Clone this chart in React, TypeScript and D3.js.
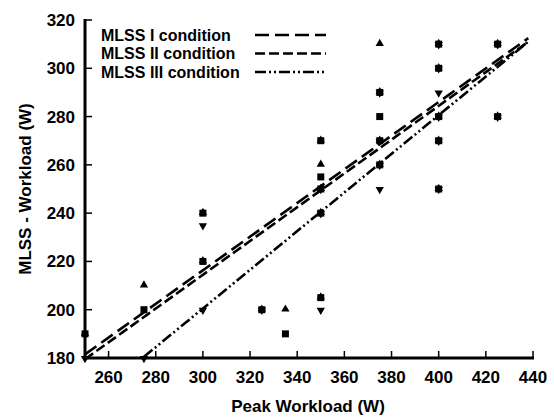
import { useEffect, useRef } from 'react'
import * as d3 from 'd3'

// peak workload (x) vs MLSS workload (y), one array per condition
const mlss1Peak = [250, 275, 300, 300, 325, 335, 350, 350, 350, 350, 350, 375, 375, 375, 375, 400, 400, 400, 400, 400, 425, 425]
const mlss1Load = [190, 200, 240, 220, 200, 190, 270, 255, 250, 240, 205, 290, 280, 270, 260, 310, 300, 280, 270, 250, 310, 280]

const mlss2Peak = [250, 275, 300, 300, 325, 335, 350, 350, 350, 350, 350, 375, 375, 375, 375, 400, 400, 400, 400, 400, 425, 425]
const mlss2Load = [190, 210, 240, 220, 200, 200, 270, 260, 250, 240, 205, 310, 290, 270, 260, 310, 300, 280, 270, 250, 310, 280]

const mlss3Peak = [250, 275, 300, 300, 325, 350, 350, 350, 375, 375, 375, 375, 400, 400, 400, 400, 400, 400, 425, 425]
const mlss3Load = [180, 180, 235, 200, 200, 250, 240, 200, 290, 270, 260, 250, 310, 300, 290, 280, 270, 250, 310, 280]

// regression lines, end points
const fit1X = [250, 438]
const fit1Y = [181.5, 312.5]
const fit2X = [250, 438]
const fit2Y = [179.5, 311]
const fit3X = [275, 438]
const fit3Y = [180.5, 311]

const legendLabels = ['MLSS I condition', 'MLSS II condition', 'MLSS III condition']
const dashes = ['14,6', '10,4', '11,3,2,3,2,3']

const xTicks = [260, 280, 300, 320, 340, 360, 380, 400, 420, 440]
const yTicks = [180, 200, 220, 240, 260, 280, 300, 320]

export default function App() {
  const svgRef = useRef<SVGSVGElement>(null)

  useEffect(() => {
    if (!svgRef.current) return
    const svg = d3.select(svgRef.current)
    svg.selectAll('*').remove()

    const font = 'Liberation Sans, Arial, sans-serif'
    const x = d3.scaleLinear().domain([250, 440]).range([85, 533])
    const y = d3.scaleLinear().domain([180, 320]).range([358, 20])

    svg.append('rect').attr('width', 554).attr('height', 417).attr('fill', '#fff')

    // regression lines
    const fits = [
      [fit1X, fit1Y],
      [fit2X, fit2Y],
      [fit3X, fit3Y]
    ]
    const line = d3.line<[number, number]>()
      .x(d => x(d[0]))
      .y(d => y(d[1]))
    fits.forEach(([fx, fy], i) => {
      svg.append('path')
        .datum(fx.map((v, j) => [v, fy[j]] as [number, number]))
        .attr('d', line)
        .attr('fill', 'none')
        .attr('stroke', '#000')
        .attr('stroke-width', 2.6)
        .attr('stroke-dasharray', dashes[i])
    })

    // markers: triangles under squares so their tips peek out
    const tri = d3.symbol().type(d3.symbolTriangle).size(30)
    svg.append('g').selectAll('path')
      .data(mlss3Peak.map((v, i) => [v, mlss3Load[i]]))
      .enter().append('path')
      .attr('d', tri)
      .attr('transform', d => `translate(${x(d[0])},${y(d[1]) + 0.5}) rotate(180)`)
      .attr('fill', '#000')
    svg.append('g').selectAll('path')
      .data(mlss2Peak.map((v, i) => [v, mlss2Load[i]]))
      .enter().append('path')
      .attr('d', tri)
      .attr('transform', d => `translate(${x(d[0])},${y(d[1]) - 0.5})`)
      .attr('fill', '#000')
    svg.append('g').selectAll('rect')
      .data(mlss1Peak.map((v, i) => [v, mlss1Load[i]]))
      .enter().append('rect')
      .attr('x', d => x(d[0]) - 3.5)
      .attr('y', d => y(d[1]) - 3.5)
      .attr('width', 7)
      .attr('height', 7)
      .attr('fill', '#000')

    // axes
    svg.append('line')
      .attr('x1', x(250)).attr('x2', x(250))
      .attr('y1', y(320) - 1).attr('y2', y(180) + 1.5)
      .attr('stroke', '#000').attr('stroke-width', 3)
    svg.append('line')
      .attr('x1', x(250) - 1.5).attr('x2', x(440) + 1)
      .attr('y1', y(180)).attr('y2', y(180))
      .attr('stroke', '#000').attr('stroke-width', 3)

    svg.append('g').selectAll('line')
      .data(yTicks.slice(1))
      .enter().append('line')
      .attr('x1', x(250)).attr('x2', x(250) + 7)
      .attr('y1', d => y(d)).attr('y2', d => y(d))
      .attr('stroke', '#000').attr('stroke-width', 1.5)
    svg.append('g').selectAll('line')
      .data(xTicks)
      .enter().append('line')
      .attr('x1', d => x(d)).attr('x2', d => x(d))
      .attr('y1', y(180)).attr('y2', y(180) - 7)
      .attr('stroke', '#000').attr('stroke-width', 1.5)

    svg.append('g').selectAll('text')
      .data(yTicks)
      .enter().append('text')
      .attr('x', 75)
      .attr('y', d => y(d) + 6)
      .attr('text-anchor', 'end')
      .style('font-family', font)
      .style('font-weight', 'bold')
      .style('font-size', '17px')
      .text(d => d)
    svg.append('g').selectAll('text')
      .data(xTicks)
      .enter().append('text')
      .attr('x', d => x(d))
      .attr('y', 383)
      .attr('text-anchor', 'middle')
      .style('font-family', font)
      .style('font-weight', 'bold')
      .style('font-size', '17px')
      .text(d => d)

    svg.append('text')
      .attr('transform', 'translate(31,189) rotate(-90)')
      .attr('text-anchor', 'middle')
      .style('font-family', font)
      .style('font-weight', 'bold')
      .style('font-size', '17px')
      .text('MLSS - Workload (W)')
    svg.append('text')
      .attr('x', 308)
      .attr('y', 412)
      .attr('text-anchor', 'middle')
      .style('font-family', font)
      .style('font-weight', 'bold')
      .style('font-size', '17px')
      .text('Peak Workload (W)')

    // legend
    legendLabels.forEach((label, i) => {
      const cy = 35 + i * 18.5
      svg.append('text')
        .attr('x', 101)
        .attr('y', cy + 5.5)
        .style('font-family', font)
        .style('font-weight', 'bold')
        .style('font-size', '16px')
        .text(label)
      svg.append('line')
        .attr('x1', 255).attr('x2', 326)
        .attr('y1', cy).attr('y2', cy)
        .attr('stroke', '#000')
        .attr('stroke-width', 2.6)
        .attr('stroke-dasharray', dashes[i])
    })
  }, [])

  return (
    <svg ref={svgRef} width={554} height={417}
      style={{ position: 'absolute', left: 0, top: 0, display: 'block' }}></svg>
  )
}
